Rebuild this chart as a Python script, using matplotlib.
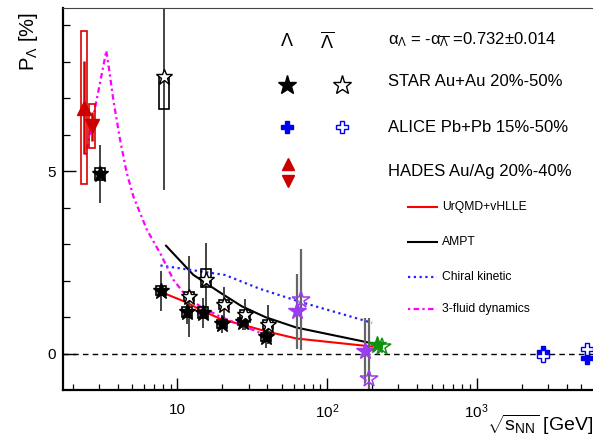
import numpy as np
import matplotlib
matplotlib.use('Agg')
import matplotlib.pyplot as plt
from matplotlib.patches import Rectangle
from matplotlib.ticker import LogLocator, NullFormatter, FixedLocator

plt.rcParams['font.family'] = ['Liberation Sans', 'DejaVu Sans']
plt.rcParams['mathtext.fontset'] = 'custom'
plt.rcParams['mathtext.rm'] = 'Liberation Sans'
plt.rcParams['mathtext.it'] = 'Liberation Sans'
plt.rcParams['mathtext.bf'] = 'Liberation Sans:bold'

# ---------------- data ----------------
# STAR Au+Au Lambda (filled black stars)
star_lam_x = [3.04, 7.74, 11.55, 14.8, 19.8, 27.3, 39.2]
star_lam_y = [4.93, 1.73, 1.14, 1.13, 0.82, 0.88, 0.46]
star_lam_stat = [0.80, 0.55, 0.33, 0.41, 0.25, 0.22, 0.30]
star_lam_sys = [0.17, 0.12, 0.13, 0.14, 0.10, 0.10, 0.10]
# STAR Au+Au anti-Lambda (open black stars)
star_alam_x = [8.19, 12.0, 15.5, 20.5, 28.3, 40.5]
star_alam_y = [7.58, 1.57, 2.03, 1.35, 1.07, 0.80]
star_alam_stat = [3.1, 1.1, 1.0, 0.49, 0.43, 0.54]
star_alam_sys_lo = [0.88, 0.12, 0.19, 0.12, 0.12, 0.12]
star_alam_sys_hi = [0.0, 0.12, 0.30, 0.12, 0.12, 0.12]
# STAR 62.4 / 200 GeV (violet)
star07_lam_x = [63.3, 179.6]
star07_lam_y = [1.16, 0.09]
star07_lam_stat = [1.03, 0.90]
star07_alam_x = [66.7, 192.0]
star07_alam_y = [1.48, -0.69]
star07_alam_stat = [1.38, 1.67]
# STAR 200 GeV (green)
star18_lam_x = [217.0]
star18_lam_y = [0.25]
star18_lam_stat = [0.05]
star18_alam_x = [232.0]
star18_alam_y = [0.20]
star18_alam_stat = [0.06]
# ALICE Pb+Pb
alice_lam_x = [2760.0, 5440.0]
alice_lam_y = [0.06, -0.12]
alice_lam_stat = [0.08, 0.08]
alice_alam_x = [2760.0, 5440.0]
alice_alam_y = [-0.07, 0.13]
alice_alam_stat = [0.08, 0.08]
# HADES
hades_au_x = [2.38]
hades_au_y = [6.74]
hades_au_stat = [1.28]
hades_au_sys = [2.10]
hades_ag_x = [2.69]
hades_ag_y = [6.23]
hades_ag_stat = [0.40]
hades_ag_sys = [0.60]
# models
urqmd_x = [7.7, 11.5, 14.5, 19.6, 27, 39, 62.4, 200]
urqmd_y = [1.70, 1.41, 1.19, 0.95, 0.80, 0.62, 0.42, 0.20]
ampt_x = [8.4, 12.8, 19.6, 27, 39, 62.4, 200]
ampt_y = [2.96, 2.16, 1.66, 1.30, 1.00, 0.72, 0.29]
chiral_x = [7.7, 20.8, 35.6, 66.6, 200]
chiral_y = [2.42, 2.16, 1.78, 1.42, 0.85]
fluid_x = [2.44, 3.0, 3.35, 3.55, 3.73, 4.14, 4.59, 5.08, 6.25, 7.66, 9.4, 11.5, 14.2, 19.3, 24.9, 38.5]
fluid_y = [5.45, 7.3, 8.3, 7.60, 6.96, 5.86, 4.95, 4.31, 3.40, 2.76, 2.03, 1.57, 1.30, 1.02, 0.84, 0.52]

# ---------------- figure ----------------
W, H = 593, 448
fig = plt.figure(figsize=(W / 100, H / 100), dpi=100)
ax = fig.add_axes([63 / W, 1 - 390 / H, 530 / W, (390 - 8) / H])
ax.set_xscale('log')
ax.set_xlim(1.72, 5990)
ax.set_ylim(-0.99, 9.47)

for s in ['left', 'bottom']:
    ax.spines[s].set_linewidth(1.6)
ax.spines['top'].set_linewidth(0.8)
ax.spines['top'].set_color('#444444')
ax.spines['right'].set_visible(False)

ax.set_xticks([10, 100, 1000])
ax.set_xticklabels(['10', '$10^{2}$', '$10^{3}$'], fontsize=11)
ax.xaxis.set_minor_locator(LogLocator(base=10, subs=np.arange(2, 10), numticks=30))
ax.xaxis.set_minor_formatter(NullFormatter())
ax.set_yticks([0, 5])
ax.set_yticklabels(['0', '5'], fontsize=11)
ax.yaxis.set_minor_locator(FixedLocator([1, 2, 3, 4, 6, 7, 8, 9]))
ax.tick_params(axis='x', which='major', direction='in', length=8.4, width=1.0, pad=9, top=False)
ax.tick_params(axis='x', which='minor', direction='in', length=4.1, width=0.9, top=False)
ax.tick_params(axis='y', which='major', direction='in', length=9.6, width=1.0, pad=5, right=False)
ax.tick_params(axis='y', which='minor', direction='in', length=5.3, width=0.9, right=False)

ax.axhline(0, color='k', ls=(0, (4, 3)), lw=1.0, zorder=1)

errc = '#444444'


def boxes(xs, ys, lo, hi, color, fac=1.08, lw=1.2):
    for x, y, l, h in zip(xs, ys, lo, hi):
        ax.add_patch(Rectangle((x / fac, y - l), x * fac - x / fac, l + h,
                               fill=False, ec=color, lw=lw, zorder=3))


def bars(xs, ys, err, color=errc, lw=1.4):
    ax.errorbar(xs, ys, yerr=err, fmt='none', ecolor=color, elinewidth=lw,
                capsize=0, zorder=2)


# models
ax.plot(urqmd_x, urqmd_y, color='#ff0000', lw=1.5, zorder=2)
ax.plot(ampt_x, ampt_y, color='k', lw=1.5, zorder=2)
ax.plot(chiral_x, chiral_y, color='#2020ff', lw=1.6, ls=(0, (1, 1.6)), zorder=2)
ax.plot(fluid_x, fluid_y, color='#ff00ff', lw=1.6, ls=(0, (1, 1.5, 2.5, 1.5)), zorder=2)

# HADES
bars(hades_au_x, hades_au_y, hades_au_stat, color='#cc0000', lw=1.8)
bars(hades_ag_x, hades_ag_y, hades_ag_stat, color='#cc0000', lw=1.8)
boxes(hades_au_x, hades_au_y, hades_au_sys, hades_au_sys, '#dd0000', fac=1.052)
boxes(hades_ag_x, hades_ag_y, hades_ag_sys, hades_ag_sys, '#dd0000', fac=1.052)
ax.plot(hades_au_x, hades_au_y, '^', color='#cc0000', ms=10, zorder=5)
ax.plot(hades_ag_x, hades_ag_y, 'v', color='#cc0000', ms=10, zorder=5)

# STAR BES
bars(star_lam_x, star_lam_y, star_lam_stat)
bars(star_alam_x, star_alam_y, star_alam_stat)
boxes(star_lam_x, star_lam_y, star_lam_sys, star_lam_sys, 'k')
boxes(star_alam_x, star_alam_y, star_alam_sys_lo, star_alam_sys_hi, 'k')
ax.plot(star_lam_x, star_lam_y, '*', color='k', ms=12, zorder=5)
ax.plot(star_alam_x, star_alam_y, '*', mfc='white', mec='k', mew=1.0, ms=12, zorder=5, ls='none')

# STAR 62.4 / 200
vio = '#9a3cf0'
bars(star07_lam_x, star07_lam_y, star07_lam_stat, color='#666666', lw=1.6)
bars(star07_alam_x, star07_alam_y, star07_alam_stat, color='#666666', lw=1.6)
ax.plot(star07_lam_x, star07_lam_y, '*', color=vio, ms=13, zorder=5, ls='none')
ax.plot(star07_alam_x, star07_alam_y, '*', mfc='none', mec=vio, mew=1.1, ms=13, zorder=5, ls='none')

grn = '#109010'
bars(star18_lam_x, star18_lam_y, star18_lam_stat, color=grn)
bars(star18_alam_x, star18_alam_y, star18_alam_stat, color=grn)
ax.plot(star18_lam_x, star18_lam_y, '*', color=grn, ms=13, zorder=5, ls='none')
ax.plot(star18_alam_x, star18_alam_y, '*', mfc='none', mec=grn, mew=1.1, ms=13, zorder=5, ls='none')

# ALICE
blu = '#0000ee'
bars(alice_lam_x, alice_lam_y, alice_lam_stat, color=blu)
bars(alice_alam_x, alice_alam_y, alice_alam_stat, color=blu)
ax.plot(alice_lam_x, alice_lam_y, 'P', color=blu, ms=8, zorder=5, ls='none')
ax.plot(alice_alam_x, alice_alam_y, 'P', mfc='white', mec=blu, mew=1.0, ms=8, zorder=6, ls='none')

# ---------------- labels ----------------
ax.set_xlabel(r'$\sqrt{s_{NN}}$ [GeV]', fontsize=14)
ax.xaxis.set_label_coords(1.0, -0.06)
ax.xaxis.label.set_horizontalalignment('right')
ax.xaxis.label.set_verticalalignment('top')
fig.text(28 / W, 1 - 12 / H, r'P$_{\Lambda}$ [%]', rotation=90, fontsize=14.5,
         ha='center', va='top')


def fx(x, y):
    return x / W, 1 - y / H


def mark(x, y, **kw):
    fx_, fy_ = fx(x, y)
    fig.add_artist(plt.Line2D([fx_], [fy_], transform=fig.transFigure, **kw))


# legend (markers)
fig.text(*fx(287, 42), r'$\Lambda$', fontsize=13, ha='center', va='center')
fig.text(*fx(327, 42), r'$\overline{\Lambda}$', fontsize=13, ha='center', va='center')
fig.text(*fx(388, 40), r'$\alpha_{\Lambda}$ = -$\alpha_{\overline{\Lambda}}$ =0.732$\pm$0.014',
         fontsize=12, ha='left', va='center')
mark(287, 85, marker='*', color='k', ms=14, ls='none')
mark(342, 85, marker='*', mfc='white', mec='k', mew=1.0, ms=14, ls='none')
fig.text(*fx(388, 81), 'STAR Au+Au 20%-50%', fontsize=12, ha='left', va='center')
mark(287, 127, marker='P', color=blu, ms=9, ls='none')
mark(342, 127, marker='P', mfc='white', mec=blu, mew=1.0, ms=9, ls='none')
fig.text(*fx(388, 127), 'ALICE Pb+Pb 15%-50%', fontsize=12, ha='left', va='center')
mark(288, 164, marker='^', color='#cc0000', ms=9, ls='none')
mark(288, 181, marker='v', color='#cc0000', ms=9, ls='none')
fig.text(*fx(388, 171), 'HADES Au/Ag 20%-40%', fontsize=12, ha='left', va='center')

# legend (models)
model_rows = [('UrQMD+vHLLE', dict(color='#ff0000', lw=1.5), 207),
              ('AMPT', dict(color='k', lw=1.5), 242),
              ('Chiral kinetic', dict(color='#2020ff', lw=1.6, ls=(0, (1, 1.6))), 277),
              ('3-fluid dynamics', dict(color='#ff00ff', lw=1.6, ls=(0, (1, 1.5, 2.5, 1.5))), 309)]
for label, sty, yy in model_rows:
    x0, y0 = fx(408, yy)
    x1, _ = fx(437, yy)
    fig.add_artist(plt.Line2D([x0, x1], [y0, y0], transform=fig.transFigure, **sty))
    fig.text(*fx(442, yy), label, fontsize=8.7, ha='left', va='center')

fig.savefig('out.png', dpi=100)
